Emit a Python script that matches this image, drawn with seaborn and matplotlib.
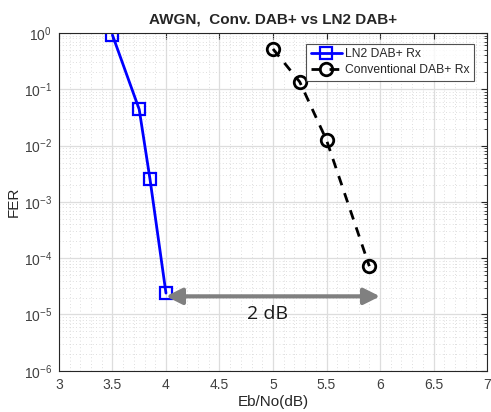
import matplotlib
matplotlib.use("Agg")
import matplotlib.pyplot as plt
import matplotlib.ticker as mticker
import pandas as pd
import seaborn as sns

# LN2 DAB+ receiver
ln2_ebno = [3.5, 3.75, 3.85, 4.0]
ln2_fer = [0.92, 0.044, 0.0026, 2.4e-5]

# Conventional DAB+ receiver
conv_ebno = [5.0, 5.25, 5.5, 5.9]
conv_fer = [0.52, 0.135, 0.0125, 7.2e-5]

gap_start, gap_end, gap_fer = 4.0, 6.0, 2.1e-5
gap_label = "2 dB"


def main() -> None:
    sns.set_style("white")
    plt.rcParams["font.family"] = ["Liberation Sans", "DejaVu Sans"]

    fig = plt.figure(figsize=(4.91, 4.12), dpi=100)
    ax = fig.add_axes([0.120, 0.100, 0.872, 0.820])

    ln2 = pd.DataFrame({"ebno": ln2_ebno, "fer": ln2_fer})
    conv = pd.DataFrame({"ebno": conv_ebno, "fer": conv_fer})

    sns.lineplot(
        data=ln2, x="ebno", y="fer", ax=ax, color="#0000ff", linewidth=2.0,
        marker="s", markersize=8, markerfacecolor="none",
        markeredgecolor="#0000ff", markeredgewidth=1.6,
        label="LN2 DAB+ Rx",
    )
    sns.lineplot(
        data=conv, x="ebno", y="fer", ax=ax, color="black", linewidth=2.0,
        linestyle=(0, (3.5, 3)), marker="o", markersize=9,
        markerfacecolor="none", markeredgecolor="black", markeredgewidth=2.0,
        label="Conventional DAB+ Rx",
    )

    ax.annotate(
        "", xy=(gap_end, gap_fer), xytext=(gap_start, gap_fer),
        arrowprops=dict(arrowstyle="<|-|>", color="#808080", lw=3,
                        mutation_scale=24, shrinkA=0, shrinkB=0),
    )
    ax.text(4.95, 1.0e-5, gap_label, ha="center", va="center",
            fontsize=14, color="#1a1a1a", family=["Open Sans", "DejaVu Sans"])

    ax.set_yscale("log")
    ax.set_xlim(3, 7)
    ax.set_ylim(1e-6, 1)
    ax.xaxis.set_major_locator(mticker.MultipleLocator(0.5))
    ax.xaxis.set_minor_locator(mticker.MultipleLocator(0.1))
    ax.xaxis.set_major_formatter(mticker.FormatStrFormatter("%g"))
    ax.yaxis.set_major_locator(mticker.LogLocator(base=10, numticks=10))
    ax.yaxis.set_minor_locator(mticker.LogLocator(base=10, subs=range(2, 10), numticks=10))
    ax.yaxis.set_minor_formatter(mticker.NullFormatter())

    ax.grid(True, which="major", color="#dddddd", linewidth=0.9)
    ax.grid(True, which="minor", color="#d4d4d4", linestyle=(0, (1, 3)), linewidth=0.6)
    ax.set_axisbelow(True)

    for spine in ax.spines.values():
        spine.set_color("#262626")
        spine.set_linewidth(0.8)
    ax.tick_params(which="both", direction="in", top=True, right=True,
                   labelsize=10, colors="#262626", labelcolor="#404040")
    ax.tick_params(which="major", length=4, pad=5)
    ax.tick_params(which="minor", length=2)
    ax.tick_params(axis="x", which="minor", length=0)

    ax.set_xlabel("Eb/No(dB)", fontsize=11, color="#262626", labelpad=2)
    ax.set_ylabel("FER", fontsize=11, color="#262626", labelpad=2)
    ax.set_title("AWGN,  Conv. DAB+ vs LN2 DAB+", fontsize=11, fontweight="bold", pad=7)

    leg = ax.legend(loc="upper right", bbox_to_anchor=(0.975, 0.975), fontsize=8.7,
                    frameon=True, fancybox=False, borderpad=0.35, handlelength=2.6,
                    handletextpad=0.25, labelspacing=0.35, borderaxespad=0.2)
    leg.get_frame().set_edgecolor("#262626")
    leg.get_frame().set_linewidth(0.8)

    fig.savefig("out.png", dpi=100)
    plt.close(fig)


if __name__ == "__main__":
    main()
